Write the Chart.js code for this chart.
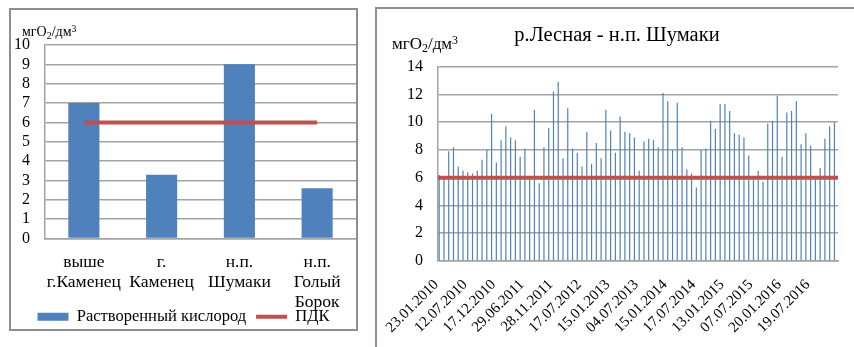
<!DOCTYPE html>
<html lang="ru">
<head>
<meta charset="utf-8">
<script src="https://cdn.jsdelivr.net/npm/chart.js@4/dist/chart.umd.min.js"></script>
<style>
  html, body { margin: 0; padding: 0; background: #fff; }
  body { width: 854px; height: 347px; overflow: hidden; position: relative; font-family: "Liberation Serif", "Times New Roman", serif; }
  .panel { position: absolute; box-sizing: border-box; border: 2px solid #8e8e8e; background: #fff; }
  .panel canvas { position: absolute; left: 0; top: 0; }
  .unit { position: absolute; color: #000; white-space: nowrap; line-height: 1; }
  .unit sub { font-size: 0.7em; vertical-align: -0.25em; }
  .unit sup { font-size: 0.7em; vertical-align: 0.45em; }
</style>
</head>
<body>
<div class="panel" id="leftPanel" style="left:9px; top:8px; width:349px; height:323px;">
  <canvas id="sitesChart" width="345" height="325"></canvas>
</div>
<div class="unit" style="left:22px; top:24px; font-size:14px;">мгO<sub>2</sub>/дм<sup>3</sup></div>

<div class="panel" id="rightPanel" style="left:375px; top:7px; width:520px; height:380px;">
  <canvas id="seriesChart" width="480" height="340"></canvas>
</div>
<div class="unit" style="left:392px; top:35px; font-size:17px;">мгO<sub>2</sub>/дм<sup>3</sup></div>

<script>
// Dissolved oxygen at the four monitoring sites, mgO2/dm3
const sites = [['выше', 'г.Каменец'], ['г.', 'Каменец'], ['н.п.', 'Шумаки'], ['н.п.', 'Голый', 'Борок']];
const siteOxygen = [7.0, 3.3, 9.0, 2.6];

// Maximum permissible concentration (ПДК)
const pdk = 6;

// Sampling series at н.п. Шумаки, one value per sample
const sampleOxygen = [
  6.2, 6.0, 7.9, 8.2, 6.8, 6.5, 6.4, 6.3, 6.5, 7.3, 8.0, 10.6,
  7.1, 8.7, 9.7, 8.9, 8.7, 7.5, 8.1, 6.0, 10.9, 5.6, 8.2, 9.6,
  12.2, 12.9, 7.4, 11.0, 8.1, 7.8, 6.8, 9.3, 7.0, 8.5, 7.4, 10.9,
  9.4, 7.8, 10.4, 9.3, 9.2, 8.9, 6.5, 8.6, 8.8, 8.7, 8.2, 12.1,
  11.5, 8.0, 11.4, 8.2, 6.6, 6.3, 5.3, 8.0, 8.1, 10.1, 9.5, 11.3,
  11.3, 10.8, 9.2, 9.1, 8.9, 7.6, 6.0, 6.5, 5.7, 9.9, 10.1, 11.9,
  7.5, 10.7, 10.8, 11.5, 8.4, 9.2, 8.3, 6.0, 6.7, 8.8, 9.7, 10.0
];

// Dates printed under every sixth sample
const sampleDateTicks = [
  '23.01.2010', '12.07.2010', '17.12.2010', '29.06.2011', '28.11.2011',
  '17.07.2012', '15.01.2013', '04.07.2013', '15.01.2014', '17.07.2014',
  '13.01.2015', '07.07.2015', '20.01.2016', '19.07.2016'
];
const tickEvery = 6;

const sampleLabels = sampleOxygen.map((_, i) => (i % tickEvery === 0 ? sampleDateTicks[i / tickEvery] : ''));

const BLUE = '#4f81bd';
const RED = '#c0504d';
const GRID = '#a3a3a3';
const SERIF = '"Liberation Serif", "Times New Roman", serif';

Chart.defaults.font.family = SERIF;
Chart.defaults.color = '#000';
Chart.defaults.animation = false;

// Legend: filled box for bars, thick stroke for the ПДК line
function legendItems(chart) {
  const items = Chart.defaults.plugins.legend.labels.generateLabels(chart);
  items.forEach(item => {
    const ds = chart.data.datasets[item.datasetIndex];
    if (ds.type === 'line') {
      item.pointStyle = 'line';
      item.strokeStyle = RED;
      item.lineWidth = 4;
    } else {
      item.pointStyle = 'rect';
      item.fillStyle = BLUE;
      item.lineWidth = 0;
    }
  });
  return items;
}

// Category labels may run down into the legend band; let them draw past the axis box
const tickOverflow = {
  id: 'tickOverflow',
  afterLayout(chart) {
    chart.scales.x.bottom = chart.height;
  }
};

// Fixed category-axis geometry, no extra side padding for label overhang
const fixAxisHeight = h => s => {
  s.height = h;
  s.paddingLeft = 0;
  s.paddingRight = 0;
};

new Chart(document.getElementById('sitesChart'), {
  type: 'bar',
  data: {
    labels: sites,
    datasets: [
      {
        label: 'Растворенный кислород',
        data: siteOxygen,
        backgroundColor: BLUE,
        borderWidth: 0,
        barPercentage: 0.4,
        categoryPercentage: 1,
        order: 2
      },
      {
        type: 'line',
        label: 'ПДК',
        data: sites.map(() => pdk),
        borderColor: RED,
        backgroundColor: RED,
        borderWidth: 4,
        pointRadius: 0,
        order: 1
      }
    ]
  },
  plugins: [tickOverflow],
  options: {
    responsive: false,
    layout: { padding: { top: 35, right: 0, left: 0, bottom: 0 } },
    plugins: {
      tooltip: { enabled: false },
      legend: {
        position: 'bottom',
        labels: {
          usePointStyle: true,
          pointStyleWidth: 31,
          boxHeight: 8,
          padding: 10,
          font: { size: 16.5 },
          generateLabels: legendItems,
          sort: (a, b) => a.datasetIndex - b.datasetIndex
        }
      }
    },
    scales: {
      x: {
        grid: { display: false, drawTicks: false },
        border: { color: GRID, width: 1.5 },
        ticks: { padding: 14, font: { size: 17.5, lineHeight: 1.15 }, maxRotation: 0, autoSkip: false },
        afterFit: fixAxisHeight(60)
      },
      y: {
        min: 0, max: 10,
        grid: { color: GRID, lineWidth: 1.5, drawTicks: false },
        border: { color: GRID, width: 1.5 },
        ticks: { stepSize: 1, autoSkip: false, padding: 15, font: { size: 16 } },
        afterFit: s => { s.width = 34; }
      }
    }
  }
});

new Chart(document.getElementById('seriesChart'), {
  type: 'bar',
  data: {
    labels: sampleLabels,
    datasets: [
      {
        label: 'Растворенный кислород',
        data: sampleOxygen,
        backgroundColor: BLUE,
        borderWidth: 0,
        barPercentage: 0.5,
        categoryPercentage: 1,
        order: 2
      },
      {
        type: 'line',
        label: 'ПДК',
        data: sampleOxygen.map(() => pdk),
        xAxisID: 'xLine',
        borderColor: RED,
        borderWidth: 4,
        pointRadius: 0,
        order: 1
      }
    ]
  },
  options: {
    responsive: false,
    layout: { padding: 0 },
    plugins: {
      tooltip: { enabled: false },
      legend: { display: false },
      title: {
        display: true,
        text: 'р.Лесная - н.п. Шумаки',
        font: { size: 20.5, weight: 'normal', lineHeight: 1.2 },
        color: '#000',
        padding: { top: 14, bottom: 19 }
      }
    },
    scales: {
      x: {
        grid: { display: false, drawTicks: false },
        border: { color: GRID, width: 1.5 },
        ticks: {
          autoSkip: false, maxRotation: 45, minRotation: 45,
          padding: 15, labelOffset: -4, font: { size: 15 }
        },
        afterFit: fixAxisHeight(88)
      },
      xLine: {
        type: 'category',
        display: false,
        offset: false
      },
      y: {
        min: 0, max: 14,
        grid: { color: GRID, lineWidth: 1.5, drawTicks: false },
        border: { color: GRID, width: 1.5 },
        ticks: { stepSize: 2, padding: 15, font: { size: 16 } },
        afterFit: s => { s.width = 61; }
      },
      // empty margin on the right side of the plot
      yMargin: {
        position: 'right',
        grid: { display: false, drawTicks: false },
        border: { display: false },
        ticks: { display: false },
        afterFit: s => { s.width = 19; }
      }
    }
  }
});
</script>
</body>
</html>
